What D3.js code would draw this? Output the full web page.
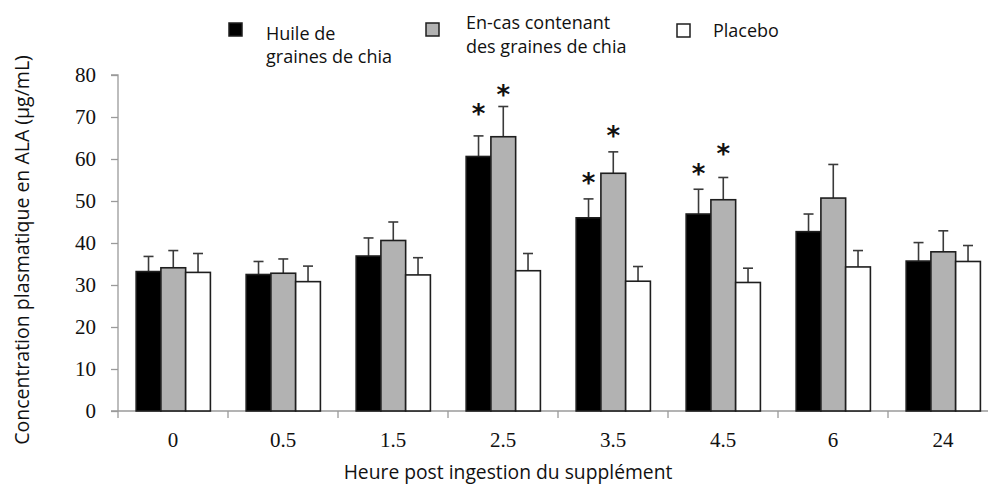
<!DOCTYPE html>
<html>
<head>
<meta charset="utf-8">
<script src="https://cdn.jsdelivr.net/npm/d3@7"></script>
<style>
  html, body { margin: 0; padding: 0; background: #fff; }
  svg { display: block; }
</style>
</head>
<body>
<svg id="chart" width="988" height="491"></svg>
<script>
// ---------- data ----------
const categories = ["0", "0.5", "1.5", "2.5", "3.5", "4.5", "6", "24"];
const seriesNames = ["Huile de graines de chia", "En-cas contenant des graines de chia", "Placebo"];
const huileMean   = [33.2, 32.5, 36.9, 60.6, 46.0, 46.9, 42.7, 35.7];
const huileErr    = [36.8, 35.6, 41.2, 65.5, 50.5, 52.8, 46.9, 40.1];
const encasMean   = [34.1, 32.8, 40.6, 65.3, 56.6, 50.3, 50.7, 37.9];
const encasErr    = [38.2, 36.2, 45.0, 72.5, 61.7, 55.6, 58.7, 42.9];
const placeboMean = [33.0, 30.8, 32.4, 33.4, 30.9, 30.6, 34.3, 35.6];
const placeboErr  = [37.5, 34.5, 36.5, 37.5, 34.4, 34.0, 38.2, 39.4];
// significance markers: [category, series index, level of the marker]
const stars = [["2.5", 0, 71.7], ["2.5", 1, 76.2], ["3.5", 0, 55.2], ["3.5", 1, 66.4], ["4.5", 0, 57.4], ["4.5", 1, 62.1]];
const yTicks = [0, 10, 20, 30, 40, 50, 60, 70, 80];
const xTitle = "Heure post ingestion du supplément";
const yTitle = "Concentration plasmatique en ALA (µg/mL)";

// ---------- layout ----------
const svg = d3.select("#chart");
const mLeft = 118, mBottom = 411, mTop = 75, mRight = 998;
const fills = ["#000000", "#b2b2b2", "#ffffff"];
const means = [huileMean, encasMean, placeboMean];
const errs = [huileErr, encasErr, placeboErr];

const x0 = d3.scaleBand().domain(categories).range([mLeft, mRight]);
const x1 = d3.scaleBand().domain(d3.range(3))
  .range([x0.bandwidth() * 0.165, x0.bandwidth() * 0.84]);
const y = d3.scaleLinear().domain([0, 80]).range([mBottom, mTop]);

// y axis
const yAxis = svg.append("g").attr("transform", `translate(${mLeft},0)`)
  .call(d3.axisLeft(y).tickValues(yTicks).tickSize(7).tickPadding(15));
yAxis.select(".domain").attr("stroke", "#9a9a9a").attr("stroke-width", 1.3)
  .attr("d", `M-7,${mTop}H0V${mBottom}`);
yAxis.selectAll(".tick line").attr("stroke", "#9a9a9a").attr("stroke-width", 1.3);
yAxis.selectAll(".tick text").attr("font-family", "'Liberation Serif', 'Times New Roman', serif")
  .attr("font-size", 21).attr("fill", "#111");

// x axis (ticks at group boundaries)
const bounds = categories.map(c => x0(c)).concat([mRight]);
const xg = svg.append("g");
xg.append("line").attr("x1", mLeft - 7).attr("x2", mRight).attr("y1", mBottom).attr("y2", mBottom)
  .attr("stroke", "#9a9a9a").attr("stroke-width", 1.3);
xg.selectAll("line.tk").data(bounds).join("line").attr("class", "tk")
  .attr("x1", d => d).attr("x2", d => d).attr("y1", mBottom).attr("y2", mBottom + 7)
  .attr("stroke", "#9a9a9a").attr("stroke-width", 1.3);
xg.selectAll("text").data(categories).join("text")
  .attr("x", d => x0(d) + x0.bandwidth() / 2).attr("y", 447)
  .attr("text-anchor", "middle")
  .attr("font-family", "'Liberation Serif', 'Times New Roman', serif")
  .attr("font-size", 21).attr("fill", "#111").text(d => d);

// bars
const groups = svg.append("g").selectAll("g").data(categories).join("g")
  .attr("transform", d => `translate(${x0(d)},0)`);
groups.each(function (cat, ci) {
  const g = d3.select(this);
  for (let s = 0; s < 3; s++) {
    const cx = x1(s) + x1.bandwidth() / 2;
    g.append("line").attr("x1", cx).attr("x2", cx)
      .attr("y1", y(means[s][ci])).attr("y2", y(errs[s][ci]))
      .attr("stroke", "#3a3a3a").attr("stroke-width", 1.6);
    g.append("line").attr("x1", cx - 5).attr("x2", cx + 5)
      .attr("y1", y(errs[s][ci])).attr("y2", y(errs[s][ci]))
      .attr("stroke", "#3a3a3a").attr("stroke-width", 1.6);
    g.append("rect")
      .attr("x", x1(s)).attr("width", x1.bandwidth())
      .attr("y", y(means[s][ci])).attr("height", y(0) - y(means[s][ci]))
      .attr("fill", fills[s]).attr("stroke", "#1e1e1e").attr("stroke-width", 1.6);
  }
});

// stars
svg.append("g").selectAll("text").data(stars).join("text")
  .attr("x", d => x0(d[0]) + x1(d[1]) + x1.bandwidth() / 2)
  .attr("y", d => y(d[2]) + 13)
  .attr("text-anchor", "middle")
  .attr("font-family", "'DejaVu Sans', sans-serif").attr("font-weight", "bold")
  .attr("font-size", 26).attr("fill", "#111").text("*");

// axis titles
const sans = "'Open Sans', 'Noto Sans', sans-serif";
svg.append("text").attr("x", 508).attr("y", 479).attr("text-anchor", "middle")
  .attr("font-family", sans).attr("font-size", 19.3).attr("fill", "#111").text(xTitle);
svg.append("text").attr("transform", "translate(29,250) rotate(-90)").attr("text-anchor", "middle")
  .attr("font-family", sans).attr("font-size", 19.5).attr("fill", "#111").text(yTitle);

// legend
const legend = svg.append("g");
const legItems = [
  { sq: [229, 23], lines: ["Huile de", "graines de chia"], tx: 266, ty: [40, 63] },
  { sq: [426, 23], lines: ["En-cas contenant", "des graines de chia"], tx: 466, ty: [29, 53] },
  { sq: [677, 24], lines: ["Placebo"], tx: 713, ty: [37] }
];
legItems.forEach((it, i) => {
  legend.append("rect").attr("x", it.sq[0]).attr("y", it.sq[1]).attr("width", 13).attr("height", 13)
    .attr("fill", fills[i]).attr("stroke", "#1e1e1e").attr("stroke-width", 1.5);
  it.lines.forEach((l, j) => {
    legend.append("text").attr("x", it.tx).attr("y", it.ty[j])
      .attr("font-family", sans).attr("font-size", 18).attr("fill", "#111").text(l);
  });
});
</script>
</body>
</html>
